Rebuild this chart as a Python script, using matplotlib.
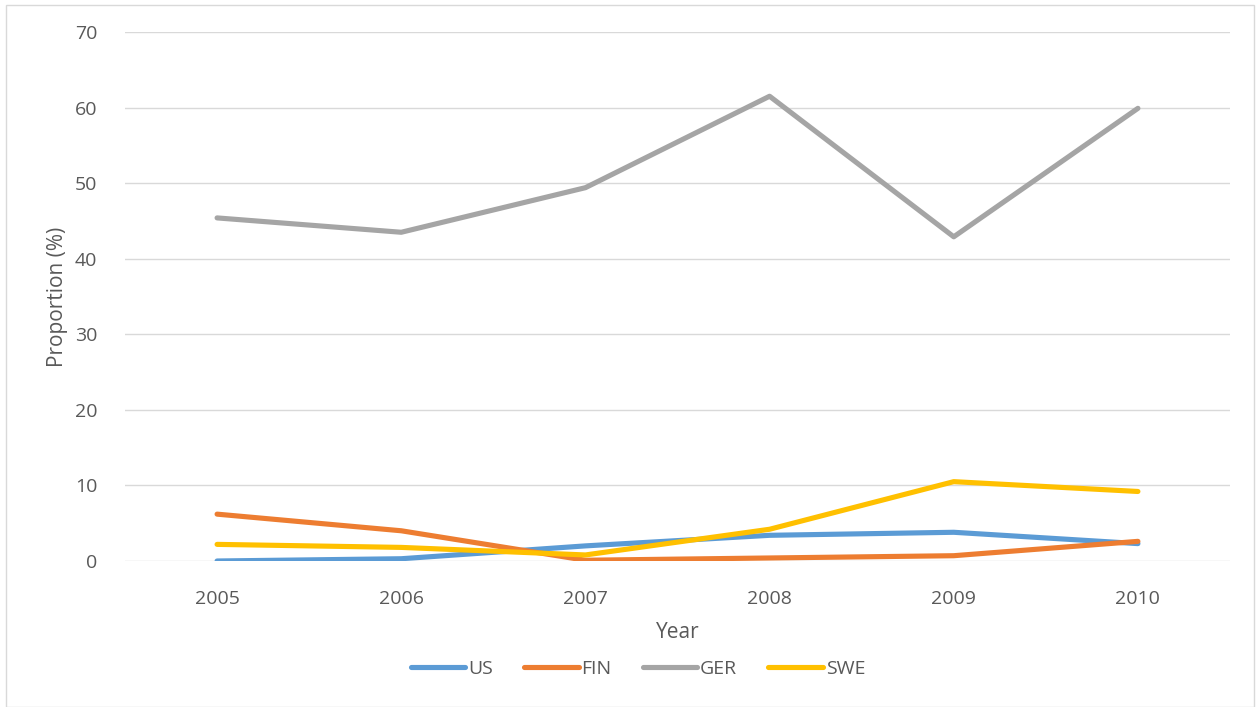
import matplotlib.pyplot as plt
from matplotlib.patches import Rectangle

# Data
years = ["2005", "2006", "2007", "2008", "2009", "2010"]
us = [0.0, 0.3, 2.0, 3.4, 3.8, 2.3]
fin = [6.2, 4.0, 0.1, 0.4, 0.7, 2.6]
ger = [45.4, 43.5, 49.4, 61.5, 42.9, 59.9]
swe = [2.2, 1.8, 0.8, 4.2, 10.5, 9.2]

series = [("US", us, "#5B9BD5"), ("FIN", fin, "#ED7D31"),
          ("GER", ger, "#A5A5A5"), ("SWE", swe, "#FFC000")]

plt.rcParams['font.family'] = ['Open Sans', 'DejaVu Sans']
text_color = "#595959"

fig = plt.figure(figsize=(12.6, 7.07), dpi=100)
ax = fig.add_axes([125 / 1260, 1 - 561 / 707, (1230 - 125) / 1260, (561 - 32) / 707])

x = range(len(years))
for name, vals, col in series:
    ax.plot(x, vals, color=col, linewidth=3.7, label=name, solid_capstyle="round")

ax.set_xlim(-0.5, len(years) - 0.5)
ax.set_ylim(0, 70)
ax.set_yticks(range(0, 71, 10))
ax.set_xticks(list(x))
ax.set_xticklabels(years)
ax.grid(axis="y", color="#D9D9D9", linewidth=1)
ax.set_axisbelow(True)
for s in ax.spines.values():
    s.set_visible(False)
ax.tick_params(length=0, labelsize=14, labelcolor=text_color)
ax.tick_params(axis="y", pad=20)
ax.tick_params(axis="x", pad=21)
ax.set_xlabel("Year", fontsize=15, color=text_color, labelpad=10)
ax.set_ylabel("Proportion (%)", fontsize=15, color=text_color, labelpad=5)

handles, labels = ax.get_legend_handles_labels()
fig.legend(handles, labels, loc="center", bbox_to_anchor=(638 / 1260, 1 - 669 / 707), ncol=4,
           frameon=False, fontsize=14, labelcolor=text_color, handlelength=2.8,
           columnspacing=1.6, handletextpad=0.15)

# light outer border like the chart area frame
fig.patches.append(Rectangle((6 / 1260, 0), 1 - 12 / 1260, 1 - 5 / 707, transform=fig.transFigure,
                             fill=False, edgecolor="#D9D9D9", linewidth=1))

fig.savefig("out.png", dpi=100)
